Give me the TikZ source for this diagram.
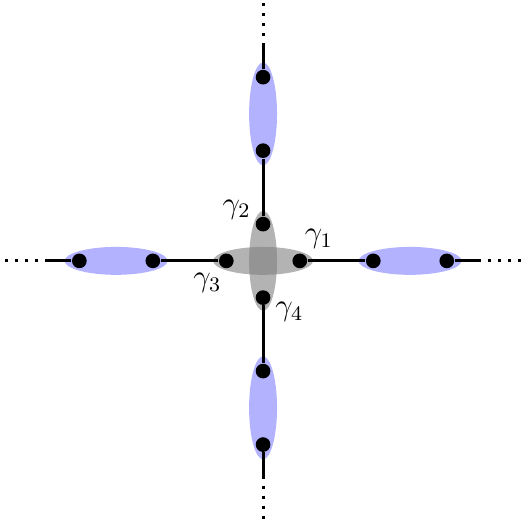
\documentclass[tikz,border=0pt]{standalone}
\usepackage{xcolor}
\usepackage{tikz}
\usetikzlibrary{positioning}
\definecolor{blobblue}{RGB}{178,178,255}
\definecolor{blobgray}{RGB}{128,128,128}
\tikzset{
  vtx/.style={circle, fill=black, inner sep=0pt, minimum size=2mm},
  edge/.style={line width=1.2pt},
  tail/.style={line width=1.2pt, dash pattern=on 1.2pt off 2.7pt},
  outerblob/.style={fill=blobblue},
  innerblob/.style={fill=blobgray, fill opacity=0.6},
  glabel/.style={inner sep=1pt, font=\large}
}
\begin{document}
\begin{tikzpicture}
\useasboundingbox (-3.58,-3.54) rectangle (3.51,3.55);

% clusters
\fill[outerblob] (2,0) ellipse (0.7 and 0.19);
\fill[outerblob] (-2,0) ellipse (0.7 and 0.19);
\fill[outerblob] (0,2) ellipse (0.19 and 0.7);
\fill[outerblob] (0,-2) ellipse (0.19 and 0.7);
\fill[innerblob] (0,0) ellipse (0.68 and 0.19);
\fill[innerblob] (0,0) ellipse (0.19 and 0.68);

% vertices
\node[vtx] (g1) at (0.5,0) {};
\node[vtx] (g2) at (0,0.5) {};
\node[vtx] (g3) at (-0.5,0) {};
\node[vtx] (g4) at (0,-0.5) {};
\node[vtx] (r1) at (1.5,0) {};
\node[vtx] (r2) at (2.5,0) {};
\node[vtx] (u1) at (0,1.5) {};
\node[vtx] (u2) at (0,2.5) {};
\node[vtx] (l1) at (-1.5,0) {};
\node[vtx] (l2) at (-2.5,0) {};
\node[vtx] (d1) at (0,-1.5) {};
\node[vtx] (d2) at (0,-2.5) {};

% free ends
\coordinate (re) at (2.92,0);
\coordinate (ue) at (0,2.92);
\coordinate (le) at (-2.92,0);
\coordinate (de) at (0,-2.92);
\coordinate (rinf) at (3.51,0);
\coordinate (uinf) at (0,3.55);
\coordinate (linf) at (-3.58,0);
\coordinate (dinf) at (0,-3.54);

\draw[edge] (g1) -- (r1);
\draw[edge] (g2) -- (u1);
\draw[edge] (g3) -- (l1);
\draw[edge] (g4) -- (d1);
\draw[edge] (r2) -- (re);
\draw[edge] (u2) -- (ue);
\draw[edge] (l2) -- (le);
\draw[edge] (d2) -- (de);
\draw[tail] (re) -- (rinf);
\draw[tail] (ue) -- (uinf);
\draw[tail] (le) -- (linf);
\draw[tail] (de) -- (dinf);

\node[glabel, above right=0.5mm and -0.5mm of g1] {$\gamma_1$};
\node[glabel, above left=-0.5mm and 0.5mm of g2] {$\gamma_2$};
\node[glabel, below left=0.5mm and -0.5mm of g3] {$\gamma_3$};
\node[glabel, below right=-0.5mm and 0.5mm of g4] {$\gamma_4$};
\end{tikzpicture}
\end{document}
